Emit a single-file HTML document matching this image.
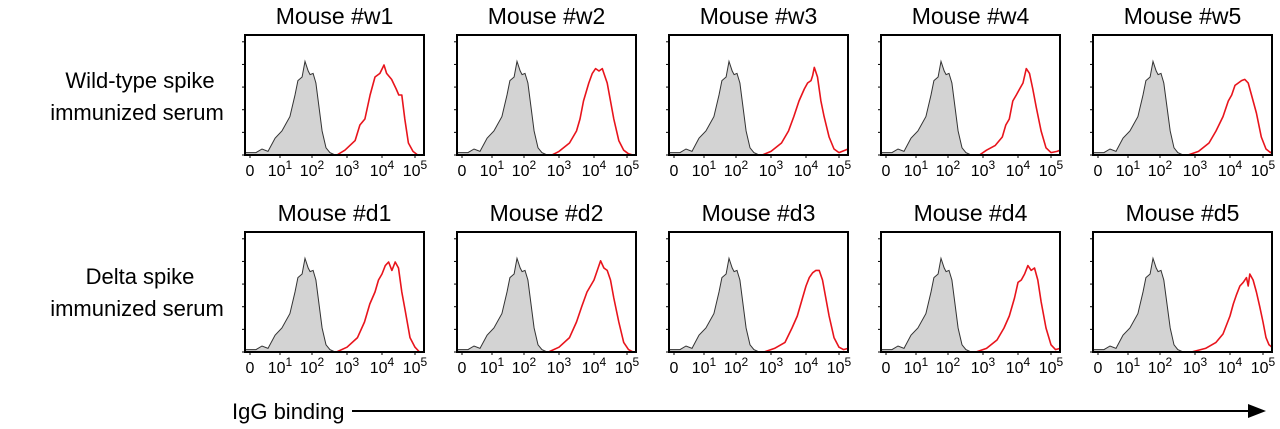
<!DOCTYPE html>
<html><head><meta charset="utf-8"><style>
html,body{margin:0;padding:0;background:#fff;}
svg{display:block;font-family:"Liberation Sans",Arial,sans-serif;}
</style></head><body>
<svg id="fig" width="1280" height="429" viewBox="0 0 1280 429">
<g id="panels"></g>
<text x="140" y="88" font-size="22" text-anchor="middle">Wild-type spike</text>
<text x="137" y="120" font-size="22" text-anchor="middle">immunized serum</text>
<text x="140" y="284" font-size="22" text-anchor="middle">Delta spike</text>
<text x="137" y="316" font-size="22" text-anchor="middle">immunized serum</text>
<text x="232" y="419" font-size="22">IgG binding</text>
<line x1="352" y1="411" x2="1252" y2="411" stroke="#000" stroke-width="2"/>
<polygon points="1266,411 1248,404 1248,418" fill="#000"/>
</svg>
<script>
const titles = ["Mouse #w1","Mouse #w2","Mouse #w3","Mouse #w4","Mouse #w5","Mouse #d1","Mouse #d2","Mouse #d3","Mouse #d4","Mouse #d5"];
const tickLabels = ["0","10^1","10^2","10^3","10^4","10^5"];
const tickDecades = [-1,1,2,3,4,5];
// gray control histogram: [decade, relative height]
const grayLog = [-1.33,-0.6,-0.2,0.2,0.67,1.06,1.31,1.47,1.56,1.69,1.78,1.88,1.94,2.03,2.11,2.2,2.29,2.4,2.51,2.66];
const grayH   = [0.02,0.02,0.05,0.03,0.14,0.2,0.32,0.5,0.62,0.65,0.78,0.7,0.67,0.68,0.6,0.4,0.2,0.06,0.02,0];
// red serum histograms per mouse
const redLog = [
 [2.71,2.94,3.23,3.37,3.51,3.66,3.8,3.94,4.06,4.14,4.29,4.43,4.51,4.6,4.69,4.8,4.94,5.09],
 [2.8,3.0,3.3,3.5,3.6,3.7,3.85,3.95,4.05,4.15,4.25,4.3,4.4,4.5,4.6,4.75,4.9,5.05,5.2],
 [2.75,3.0,3.3,3.5,3.65,3.8,3.95,4.05,4.15,4.2,4.25,4.35,4.45,4.55,4.7,4.85,5.0,5.2,5.3],
 [2.9,3.1,3.35,3.55,3.65,3.75,3.85,3.95,4.05,4.15,4.25,4.35,4.45,4.55,4.7,4.85,5.0,5.2,5.3],
 [2.8,3.1,3.4,3.6,3.8,3.95,4.05,4.15,4.25,4.35,4.45,4.55,4.65,4.8,4.95,5.1,5.25,5.3],
 [2.7,3.0,3.3,3.5,3.65,3.8,3.9,4.0,4.1,4.2,4.3,4.4,4.5,4.6,4.7,4.85,5.0,5.15],
 [2.7,3.0,3.3,3.5,3.65,3.8,3.9,4.0,4.1,4.2,4.3,4.4,4.5,4.6,4.75,4.9,5.05,5.2],
 [2.8,3.1,3.4,3.6,3.75,3.9,4.0,4.1,4.2,4.3,4.4,4.5,4.6,4.7,4.85,5.0,5.15,5.3],
 [2.8,3.1,3.4,3.6,3.75,3.9,4.0,4.1,4.2,4.3,4.4,4.5,4.6,4.7,4.85,5.0,5.15,5.3],
 [2.9,3.3,3.6,3.8,4.0,4.1,4.2,4.3,4.4,4.5,4.55,4.6,4.7,4.8,4.9,5.0,5.1,5.2,5.3]
];
const redH = [
 [0,0.04,0.12,0.25,0.3,0.5,0.65,0.68,0.75,0.68,0.63,0.55,0.5,0.5,0.3,0.1,0.03,0],
 [0,0.03,0.1,0.2,0.3,0.45,0.6,0.68,0.72,0.7,0.72,0.68,0.6,0.45,0.3,0.12,0.04,0.01,0],
 [0,0.03,0.1,0.2,0.32,0.45,0.55,0.6,0.62,0.66,0.73,0.65,0.45,0.32,0.15,0.05,0.02,0.04,0.05],
 [0,0.04,0.08,0.15,0.25,0.3,0.45,0.5,0.55,0.6,0.72,0.68,0.55,0.4,0.2,0.06,0.02,0.03,0.04],
 [0,0.03,0.1,0.2,0.32,0.45,0.5,0.58,0.6,0.62,0.63,0.6,0.5,0.35,0.15,0.05,0.02,0.03],
 [0,0.04,0.12,0.25,0.4,0.5,0.6,0.65,0.72,0.75,0.68,0.75,0.7,0.5,0.35,0.12,0.04,0],
 [0,0.04,0.12,0.25,0.38,0.5,0.55,0.6,0.68,0.76,0.7,0.68,0.6,0.45,0.25,0.08,0.02,0],
 [0,0.03,0.08,0.2,0.3,0.45,0.55,0.62,0.66,0.68,0.68,0.6,0.45,0.3,0.12,0.04,0.02,0.03],
 [0,0.03,0.1,0.2,0.3,0.45,0.58,0.6,0.65,0.72,0.68,0.7,0.6,0.42,0.2,0.06,0.02,0.03],
 [0,0.03,0.08,0.15,0.3,0.4,0.48,0.55,0.58,0.62,0.55,0.65,0.6,0.5,0.38,0.25,0.12,0.06,0.04]
];
const NS="http://www.w3.org/2000/svg";
const panelsG=document.getElementById('panels');
const W=179, H=120, left0=245, dx=212, tops=[35,232];
const kd=[-1.4,-1,1,2,3,4,5,5.3], kp=[0,5,35,67,102,137,170,179];
function xScale(d){ if(d<=kd[0])return kp[0]; for(let i=1;i<kd.length;i++){ if(d<=kd[i]){const t=(d-kd[i-1])/(kd[i]-kd[i-1]);return kp[i-1]+t*(kp[i]-kp[i-1]);}} return kp[kp.length-1];}
function yScale(h){return H-h*H;}
function mk(tag,attrs){const e=document.createElementNS(NS,tag);for(const k in attrs)e.setAttribute(k,attrs[k]);return e;}
function pathFrom(xs,ys,L,T){return xs.map((d,i)=>(i?'L':'M')+(L+xScale(d)).toFixed(1)+','+(T+yScale(ys[i])).toFixed(1)).join(' ');}
titles.forEach((t,i)=>{
  const r=Math.floor(i/5), c=i%5, L=left0+c*dx, T=tops[r];
  const g=mk('g',{});
  
  
  const tt=mk('text',{x:L+W/2,y:T-11,'font-size':23,'text-anchor':'middle'});
  
  
  tt.textContent=t; g.appendChild(tt);
  const gp=pathFrom(grayLog,grayH,L,T);
  const gf=mk('path',{d:gp+' L'+(L+xScale(grayLog[grayLog.length-1]))+','+(T+H)+' L'+L+','+(T+H)+' Z',fill:'#d3d3d3',stroke:'#333','stroke-width':1});
  
  
  g.appendChild(gf);
  const rp=mk('path',{d:pathFrom(redLog[i],redH[i],L,T),fill:'none',stroke:'#e8141c','stroke-width':1.6,'stroke-linejoin':'round'});
  
  
  g.appendChild(rp);
  const box=mk('rect',{x:L,y:T,width:W,height:H,fill:'none',stroke:'#000','stroke-width':2});
  
  
  g.appendChild(box);
  for(let k=0;k<=5;k++){const y=T+H-k*H/5.3; const l=mk('line',{x1:L-3,x2:L,y1:y,y2:y,stroke:'#000','stroke-width':1}); g.appendChild(l);}
  tickDecades.forEach((d,j)=>{
    const x=L+xScale(d);
    g.appendChild(mk('line',{x1:x,x2:x,y1:T+H,y2:T+H+3,stroke:'#000','stroke-width':1}));
    const tx=mk('text',{x:x,y:T+H+21,'font-size':16,'text-anchor':'middle'});
    
    
    const lab=tickLabels[j];
    if(lab.includes('^')){const [b,e]=lab.split('^'); tx.textContent=b; const s=mk('tspan',{dy:-7,'font-size':12}); s.textContent=e; tx.appendChild(s);} else tx.textContent=lab;
    g.appendChild(tx);
  });
  panelsG.appendChild(g);
});
</script>
</body></html>
